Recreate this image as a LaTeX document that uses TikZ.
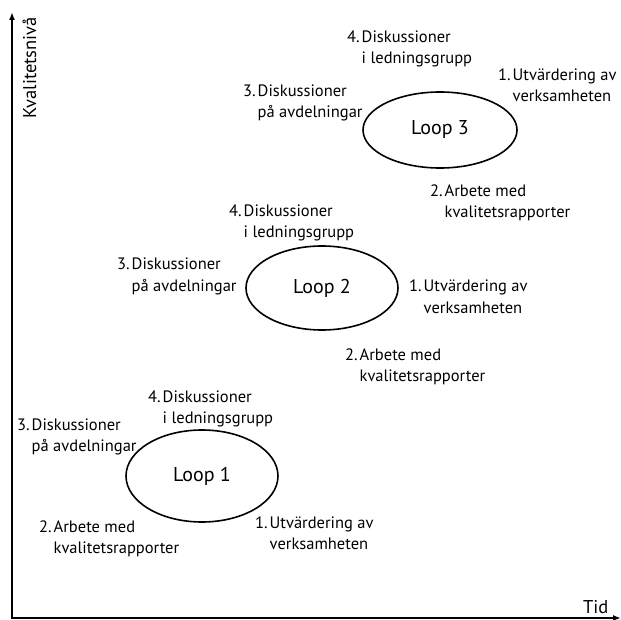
\documentclass[tikz,border=0pt]{standalone}
\usepackage{fontspec}
\setmainfont{PT Sans}
\usepackage{tikz}
\usetikzlibrary{positioning,arrows.meta,shapes.geometric}

% numbered stage text with hanging indent
\newcommand{\punkt}[3]{\begin{tabular}[t]{@{}l@{\hspace{2pt}}l@{}}#1&#2\\&#3\end{tabular}}

\begin{document}
\begin{tikzpicture}[x=1pt,y=-1pt,
  stage/.style={font=\fontsize{16.5}{21}\selectfont, inner sep=0pt, anchor=base west},
  axislabel/.style={font=\fontsize{18.5}{22}\selectfont, inner sep=0pt},
  loopnode/.style={draw, ellipse, line width=1.6pt, inner sep=0pt, font=\fontsize{20}{24}\selectfont},
  axis/.style={line width=2pt, {Latex[length=8pt,width=6pt]}-{Latex[length=8pt,width=6pt]}}]
\useasboundingbox (0,0) rectangle (621,620);

% Axes
\coordinate (ytop) at (12,12);
\coordinate (origin) at (12,618);
\coordinate (xend) at (621,618);
\draw[axis] (ytop) -- (origin) -- (xend);
\node[axislabel, rotate=90, anchor=base] (ylabel) at (36,68) {Kvalitetsnivå};
\node[axislabel, anchor=base west] (xlabel) at (583,613) {Tid};

% Loop 1
\node[loopnode, minimum width=152pt, minimum height=92pt] (loop1) at (202,476) {Loop 1};
\node[stage] (l1s1) at (255,528) {\punkt{1.}{Utvärdering av}{verksamheten}};
\node[stage] (l1s2) at (39,532) {\punkt{2.}{Arbete med}{kvalitetsrapporter}};
\node[stage] (l1s3) at (17,430) {\punkt{3.}{Diskussioner}{på avdelningar}};
\node[stage] (l1s4) at (148,402) {\punkt{4.}{Diskussioner}{i ledningsgrupp}};

% Loop 2
\node[loopnode, minimum width=152pt, minimum height=84pt] (loop2) at (322,288) {Loop 2};
\node[stage] (l2s1) at (409,292) {\punkt{1.}{Utvärdering av}{verksamheten}};
\node[stage] (l2s2) at (345,360) {\punkt{2.}{Arbete med}{kvalitetsrapporter}};
\node[stage] (l2s3) at (117,270) {\punkt{3.}{Diskussioner}{på avdelningar}};
\node[stage] (l2s4) at (229,217) {\punkt{4.}{Diskussioner}{i ledningsgrupp}};

% Loop 3
\node[loopnode, minimum width=154pt, minimum height=76pt] (loop3) at (440,130) {Loop 3};
\node[stage] (l3s1) at (498,81) {\punkt{1.}{Utvärdering av}{verksamheten}};
\node[stage] (l3s2) at (430,197) {\punkt{2.}{Arbete med}{kvalitetsrapporter}};
\node[stage] (l3s3) at (243,97) {\punkt{3.}{Diskussioner}{på avdelningar}};
\node[stage] (l3s4) at (347,43) {\punkt{4.}{Diskussioner}{i ledningsgrupp}};

\end{tikzpicture}
\end{document}
